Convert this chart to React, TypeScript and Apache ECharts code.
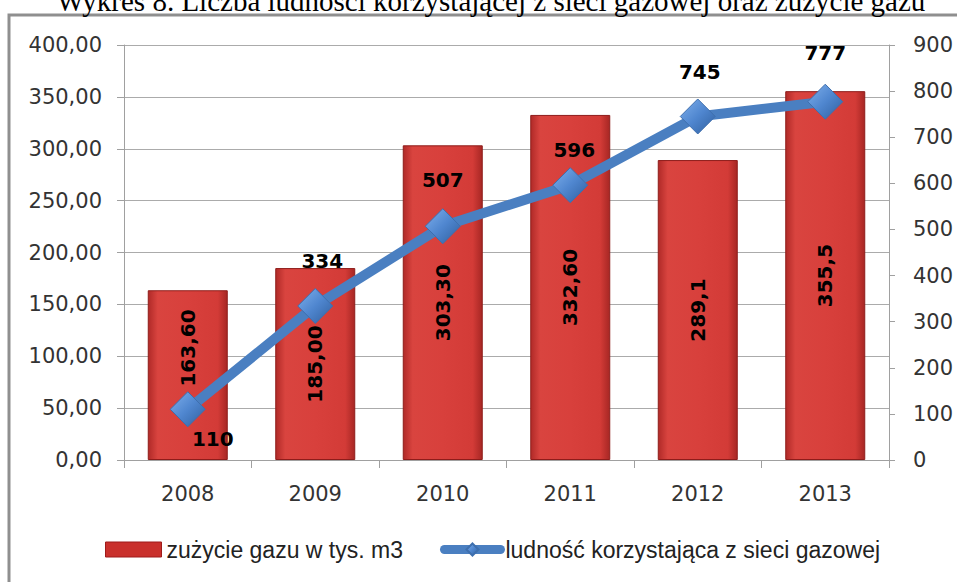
import React, { useEffect, useRef } from "react";
import * as echarts from "echarts";

const title = "Wykres 8. Liczba ludności korzystającej z sieci gazowej oraz zużycie gazu";
const years = ["2008", "2009", "2010", "2011", "2012", "2013"];
const gasUse = [163.6, 185.0, 303.3, 332.6, 289.1, 355.5];
const gasUseLabels = ["163,60", "185,00", "303,30", "332,60", "289,1", "355,5"];
const population = [110, 334, 507, 596, 745, 777];
const seriesNames = ["zużycie gazu w tys. m3", "ludność korzystająca z sieci gazowej"];

const lineLabelPos: { position: string; distance: number; offset: [number, number] }[] = [
  { position: "bottom", distance: 2, offset: [25, 0] },
  { position: "top", distance: 17, offset: [7, 0] },
  { position: "top", distance: 18, offset: [0, 0] },
  { position: "top", distance: 7, offset: [4, 0] },
  { position: "top", distance: 16, offset: [2, 0] },
  { position: "top", distance: 21, offset: [0, 0] },
];

export default function App() {
  const ref = useRef<HTMLDivElement>(null);
  useEffect(() => {
    if (!ref.current) return;
    const chart = echarts.init(ref.current, null, { renderer: "svg" });
    const axisFont = "DejaVu Sans";
    const barColor = new echarts.graphic.LinearGradient(0, 0, 1, 0, [
      { offset: 0, color: "#b02a28" },
      { offset: 0.12, color: "#d9443f" },
      { offset: 0.5, color: "#d8403c" },
      { offset: 0.88, color: "#d33b37" },
      { offset: 1, color: "#a72724" },
    ]);
    const markerColor = new echarts.graphic.LinearGradient(0, 0, 1, 1, [
      { offset: 0, color: "#7fb0ec" },
      { offset: 0.5, color: "#4f86cf" },
      { offset: 1, color: "#2f5f9e" },
    ]);
    chart.setOption({
      animation: false,
      backgroundColor: "#ffffff",
      graphic: [
        {
          type: "rect",
          shape: { x: 9, y: 15, width: 1000, height: 620 },
          style: { fill: "none", stroke: "#8f8f8f", lineWidth: 3 },
          silent: true,
        },
        {
          type: "text",
          x: 491,
          y: 15,
          style: {
            text: title,
            font: "29px 'Liberation Serif', serif",
            fill: "#000",
            verticalAlign: "bottom",
            align: "center",
          },
        },
      ],
      grid: { left: 124, right: 68, top: 45, bottom: 122, containLabel: false },
      legend: {
        bottom: 16,
        left: 100,
        itemGap: 37,
        itemWidth: 56,
        itemHeight: 15,
        textStyle: { fontFamily: "Liberation Sans", fontSize: 23, color: "#222" },
        data: [
          { name: seriesNames[0], icon: "rect", itemStyle: { color: "#c9302c", borderColor: "#9e1b1b", borderWidth: 1 } },
          { name: seriesNames[1], lineStyle: { width: 9, color: "#4a7fc1", cap: "round" } },
        ],
      },
      xAxis: {
        type: "category",
        data: years,
        axisLine: { lineStyle: { color: "#a0a0a0", width: 1 } },
        axisTick: { show: true, length: 8, lineStyle: { color: "#a0a0a0" } },
        axisLabel: { fontFamily: axisFont, fontSize: 21, color: "#333", margin: 23 },
      },
      yAxis: [
        {
          type: "value",
          min: 0,
          max: 400,
          interval: 50,
          axisLine: { show: true, lineStyle: { color: "#a0a0a0" } },
          axisTick: { show: true, length: 7, lineStyle: { color: "#a0a0a0" } },
          splitLine: { show: true, lineStyle: { color: "#ababab", width: 1 } },
          axisLabel: {
            fontFamily: axisFont,
            fontSize: 21,
            color: "#333",
            margin: 22,
            formatter: (v: number) => v.toFixed(2).replace(".", ","),
          },
        },
        {
          type: "value",
          min: 0,
          max: 900,
          interval: 100,
          axisLine: { show: true, lineStyle: { color: "#a0a0a0" } },
          axisTick: { show: true, length: 6, lineStyle: { color: "#a0a0a0" } },
          splitLine: { show: false },
          axisLabel: { fontFamily: axisFont, fontSize: 21, color: "#333", margin: 24 },
        },
      ],
      series: [
        {
          name: seriesNames[0],
          type: "bar",
          yAxisIndex: 0,
          barWidth: 80,
          data: gasUse.map((v, i) => ({
            value: v,
            label:
              i === 0
                ? { formatter: gasUseLabels[i], position: ["50%", "34%"], align: "center", verticalAlign: "middle" }
                : { formatter: gasUseLabels[i] },
          })),
          itemStyle: { color: barColor, borderColor: "#8e1c1a", borderWidth: 1 },
          label: {
            show: true,
            position: "inside",
            rotate: 90,
            fontFamily: axisFont,
            fontWeight: "bold",
            fontSize: 20,
            color: "#000",
          },
          z: 2,
        },
        {
          name: seriesNames[1],
          type: "line",
          yAxisIndex: 1,
          data: population.map((v, i) => ({
            value: v,
            label: {
              position: lineLabelPos[i].position,
              distance: lineLabelPos[i].distance,
              offset: lineLabelPos[i].offset,
            },
          })),
          symbol: "diamond",
          symbolSize: 35,
          lineStyle: { color: "#4a7fc1", width: 10 },
          itemStyle: { color: markerColor, borderColor: "#3e6fae", borderWidth: 1 },
          label: {
            show: true,
            fontFamily: axisFont,
            fontWeight: "bold",
            fontSize: 20,
            color: "#000",
          },
          z: 3,
        },
      ],
    });
    return () => chart.dispose();
  }, []);
  return <div ref={ref} style={{ width: 957, height: 582, position: "absolute", left: 0, top: 0 }} />;
}
